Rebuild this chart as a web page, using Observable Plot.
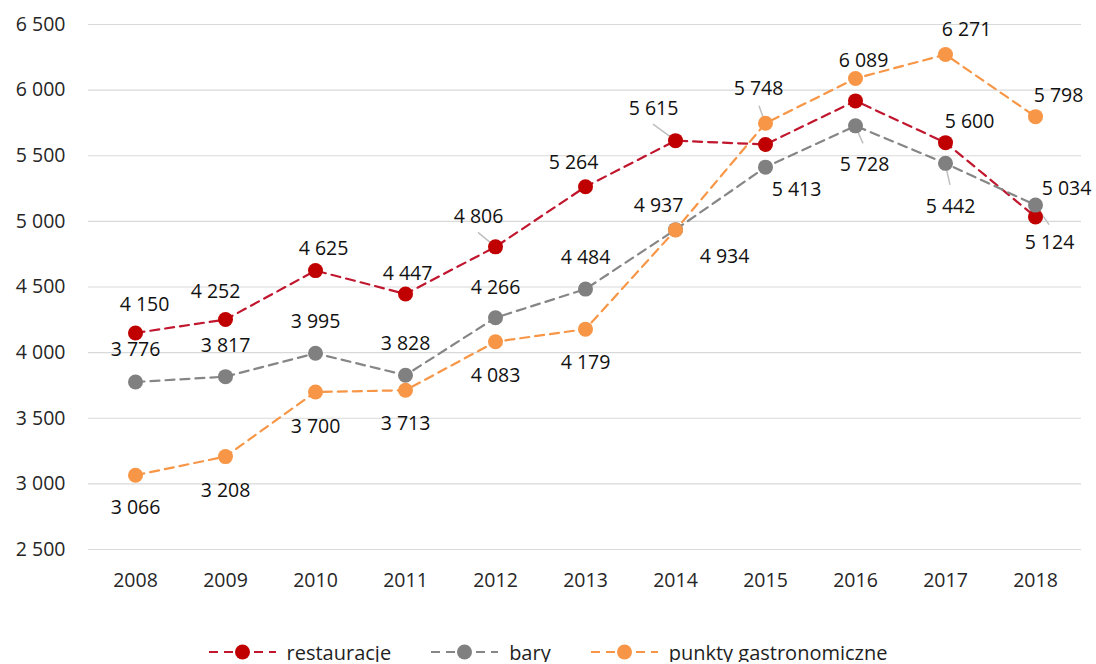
<!DOCTYPE html>
<html>
<head>
<meta charset="utf-8">
<script src="https://cdn.jsdelivr.net/npm/d3@7"></script>
<script src="https://cdn.jsdelivr.net/npm/@observablehq/plot@0.6"></script>
<style>
  body { margin: 0; background: #fff; font-family: "Open Sans", Lato, sans-serif; }
  #chart svg { display: block; }
  #legend { display: flex; justify-content: center; align-items: center; gap: 40px; height: 20px; margin-top: 22px; font-size: 20px; color: #1f1f1f; }
  .item { display: flex; align-items: center; gap: 11px; }
</style>
</head>
<body>
<div id="chart"></div>
<div id="legend"></div>
<script>
// ---- data ----
const years = ["2008","2009","2010","2011","2012","2013","2014","2015","2016","2017","2018"];
const restauracje = [4150, 4252, 4625, 4447, 4806, 5264, 5615, 5586, 5918, 5600, 5034];
const bary = [3776, 3817, 3995, 3828, 4266, 4484, 4937, 5413, 5728, 5442, 5124];
const punkty = [3066, 3208, 3700, 3713, 4083, 4179, 4934, 5748, 6089, 6271, 5798];
const seriesNames = ["restauracje", "bary", "punkty gastronomiczne"];
const yTicks = [2500, 3000, 3500, 4000, 4500, 5000, 5500, 6000, 6500];

// ---- styles / layout (not data) ----
const colors = {"restauracje": "#c00000", "bary": "#808080", "punkty gastronomiczne": "#f79646"};
const lineColors = {"restauracje": "#c0162e", "bary": "#868686", "punkty gastronomiczne": "#f79646"};
// label offsets in pixels relative to each point (null = no label)
const labelOffsets = {
  "restauracje": [[9,-28],[-10,-28],[8,-22],[2,-20],[-17,-30],[-12,-24],[-22,-32],null,null,[24,-21],[31,-28]],
  "bary": [[0,-32],[0,-31],[0,-32],[0,-31],[0,-30],[0,-31],[-17,-24],[31,23],[9,39],[5,43],[14,38]],
  "punkty gastronomiczne": [[0,33],[0,34],[0,35],[0,33],[0,34],[0,34],[49,27],[-7,-34],[8,-18],[21,-25],[23,-21]]
};
// leader lines: [series, year index, end dx, end dy]
const leaders = [
  ["restauracje", 4, -17, -14],
  ["restauracje", 6, -22, -16],
  ["punkty gastronomiczne", 7, -6, -17],
  ["bary", 8, 8, 18],
  ["bary", 9, 5, 22],
  ["bary", 10, 14, 20]
];

const valuesBySeries = {"restauracje": restauracje, "bary": bary, "punkty gastronomiczne": punkty};
const rows = seriesNames.flatMap(s => years.map((yr, i) => ({series: s, year: yr, value: valuesBySeries[s][i], i})));

const fmt = d3.formatLocale({decimal: ",", thousands: "\u00a0", grouping: [3], currency: ["", ""]}).format(",d");

const marks = [
  Plot.ruleY(yTicks, {stroke: "#d9d9d9", strokeWidth: 1.2})
];
for (const s of seriesNames) {
  const d = rows.filter(r => r.series === s);
  marks.push(Plot.line(d, {x: "year", y: "value", stroke: lineColors[s], strokeWidth: 2.2, strokeDasharray: "9,6"}));
}
// leader lines drawn through the plot's scales
marks.push((index, scales) => {
  const g = d3.create("svg:g").attr("stroke", "#bfbfbf").attr("stroke-width", 1.5);
  for (const [s, i, dx, dy] of leaders) {
    const x0 = scales.x(years[i]), y0 = scales.y(valuesBySeries[s][i]);
    g.append("line").attr("x1", x0).attr("y1", y0).attr("x2", x0 + dx).attr("y2", y0 + dy);
  }
  return g.node();
});
for (const s of seriesNames) {
  const d = rows.filter(r => r.series === s);
  marks.push(Plot.dot(d, {x: "year", y: "value", r: 7.5, fill: colors[s], stroke: "none"}));
}
for (const s of seriesNames) {
  rows.filter(r => r.series === s).forEach(r => {
    const off = labelOffsets[s][r.i];
    if (!off) return;
    marks.push(Plot.text([r], {x: "year", y: "value", text: d => fmt(d.value), dx: off[0], dy: off[1], fill: "#111", fontSize: 19.5}));
  });
}

const chart = Plot.plot({
  width: 1096,
  height: 620,
  marginTop: 24,
  marginBottom: 71,
  marginLeft: 88,
  marginRight: 15,
  style: {fontFamily: "'Open Sans', Lato, sans-serif", fontSize: "19.5px", color: "#262626", background: "#fff"},
  x: {type: "point", domain: years, padding: 0.5, tickSize: 0, tickPadding: 24, label: null},
  y: {domain: [2500, 6500], ticks: yTicks, tickFormat: fmt, tickSize: 0, tickPadding: 23, label: null},
  marks
});
document.getElementById("chart").append(chart);

// legend
const legend = d3.select("#legend");
for (const s of seriesNames) {
  const item = legend.append("div").attr("class", "item");
  const sw = item.append("svg").attr("width", 67).attr("height", 20);
  sw.append("line").attr("x1", 0).attr("x2", 67).attr("y1", 10).attr("y2", 10)
    .attr("stroke", lineColors[s]).attr("stroke-width", 2.2).attr("stroke-dasharray", "9,6");
  sw.append("circle").attr("cx", 33.5).attr("cy", 10).attr("r", 7.5).attr("fill", colors[s]);
  item.append("span").text(s);
}
</script>
</body>
</html>
